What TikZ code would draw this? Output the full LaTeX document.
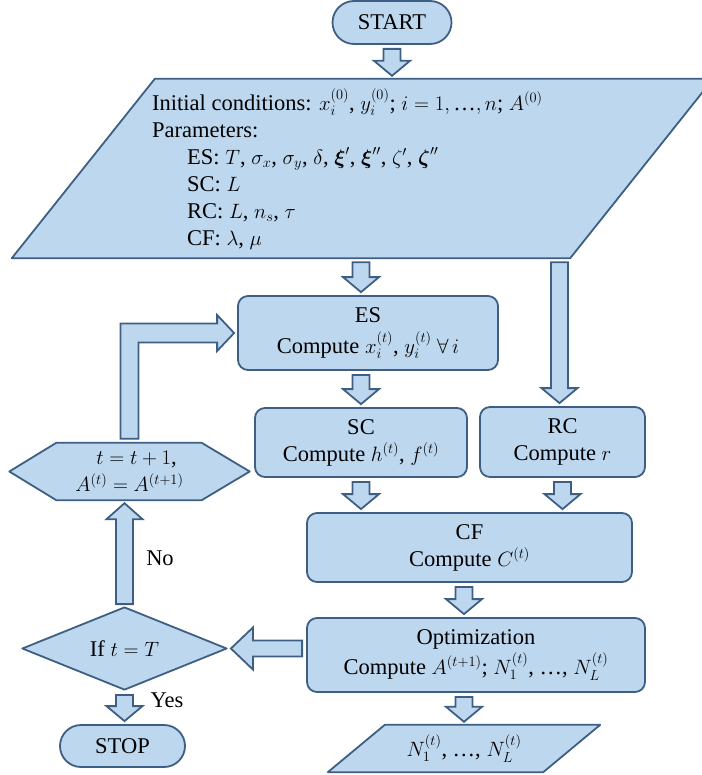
\documentclass[tikz,border=0pt]{standalone}
\usepackage{amsmath}
\usepackage{fontspec}
\setmainfont{Liberation Serif}
\usetikzlibrary{calc,shapes.geometric,shapes.misc}
\definecolor{fcol}{HTML}{BDD7EE}
\definecolor{bcol}{HTML}{3E5F83}
\pgfdeclarelayer{bg}
\pgfsetlayers{bg,main}
\newcommand\myellip{\text{…}}
\tikzset{
  shp/.style={draw=bcol, fill=fcol, line width=1.8pt, line join=round},
  box/.style={shp, rounded corners=10pt, align=center, inner sep=0pt},
  term/.style={shp, rounded rectangle, inner sep=0pt},
  blk/.style={shp, line join=miter},
  txt/.style={align=center, inner sep=0pt},
}
\newcommand\blkdown[2]{\path[blk] let \p1=#1, \p2=#2 in
  (\x1-8.5pt,\y1-4pt) -- (\x1-8.5pt,\y2+18pt) -- (\x1-18pt,\y2+18pt) -- (\x1,\y2+3pt)
  -- (\x1+18pt,\y2+18pt) -- (\x1+8.5pt,\y2+18pt) -- (\x1+8.5pt,\y1-4pt) -- cycle;}
\newcommand\blkup[2]{\path[blk] let \p1=#1, \p2=#2 in
  (\x1-8.5pt,\y1+2pt) -- (\x1-8.5pt,\y2-19pt) -- (\x1-18pt,\y2-19pt) -- (\x1,\y2-3pt)
  -- (\x1+18pt,\y2-19pt) -- (\x1+8.5pt,\y2-19pt) -- (\x1+8.5pt,\y1+2pt) -- cycle;}
\newcommand\blkleft[2]{\path[blk] let \p1=#1, \p2=#2 in
  (\x1-4pt,\y2-8pt) -- (\x2+25pt,\y2-8pt) -- (\x2+25pt,\y2-21pt) -- (\x2+3pt,\y2)
  -- (\x2+25pt,\y2+21pt) -- (\x2+25pt,\y2+8pt) -- (\x1-4pt,\y2+8pt) -- cycle;}
\begin{document}
\begin{tikzpicture}[x=1pt,y=-1pt,font=\fontsize{22.5}{27}\selectfont]
\useasboundingbox (0,0) rectangle (701,775);

% START
\node[term, minimum width=119pt, minimum height=43pt] (start) at (392,22.5) {START};

% input parallelogram
\node[inner sep=0pt, minimum width=701pt, minimum height=179pt] (inp) at (362.5,168.5) {};
\path[shp] (inp.south west) -- ($(inp.north west)+(143,0)$) -- (inp.north east)
  -- ($(inp.south east)+(-143,0)$) -- cycle;
\node[anchor=north west, align=left, inner sep=0pt] (params) at (152,88.5) {%
Initial conditions: $x_i^{(0)}$, $y_i^{(0)}$; $i = 1, \myellip, n$; $A^{(0)}$\\
Parameters:\\
\hspace*{35pt}ES: $T$, $\sigma_x$, $\sigma_y$, $\delta$, $\boldsymbol{\xi}'$, $\boldsymbol{\xi}''$, $\zeta'$, $\boldsymbol{\zeta}''$\\
\hspace*{35pt}SC: $L$\\
\hspace*{35pt}RC: $L$, $n_s$, $\tau$\\
\hspace*{35pt}CF: $\lambda$, $\mu$};

% process boxes
\node[box, minimum width=260pt, minimum height=74pt] (es) at (368,333)
  {ES\\[4pt]Compute $x_i^{(t)}$, $y_i^{(t)}$ $\forall\, i$};
\node[box, minimum width=212pt, minimum height=69pt] (sc) at (361,442.5)
  {SC\\Compute $h^{(t)}$, $f^{(t)}$};
\node[box, minimum width=165pt, minimum height=70pt] (rc) at (562.5,442)
  {RC\\Compute $r$};
\node[box, minimum width=325pt, minimum height=69pt] (cf) at (469.5,547.5)
  {CF\\Compute $C^{(t)}$};
\node[box, minimum width=338pt, minimum height=74pt] (opt) at (476,655)
  {Optimization\\[3pt]Compute $A^{(t+1)}$; $N_1^{(t)}$, \myellip, $N_L^{(t)}$};

% hexagon
\node[txt, minimum width=240pt, minimum height=57pt] (hex) at (129.5,471.5)
  {\hspace*{14pt}$t = t + 1$,\\$A^{(t)} = A^{(t+1)}$};
\begin{pgfonlayer}{bg}
\path[shp] (hex.west) -- ($(hex.north west)+(47,0)$) -- ($(hex.north east)+(-48,0)$)
  -- (hex.east) -- ($(hex.south east)+(-48,0)$) -- ($(hex.south west)+(47,0)$) -- cycle;
\end{pgfonlayer}

% decision
\node[shp, diamond, aspect=2.47, minimum width=205pt, minimum height=83pt, inner sep=0pt]
  (dia) at (124.5,648.5) {If $t = T$};

% STOP
\node[term, minimum width=125pt, minimum height=42pt] (stop) at (122.5,746) {STOP};

% output parallelogram
\node[txt, minimum width=272pt, minimum height=47pt] (out) at (464,748.5)
  {$N_1^{(t)}$, \myellip, $N_L^{(t)}$};
\begin{pgfonlayer}{bg}
\path[shp] (out.south west) -- ($(out.north west)+(57,0)$) -- (out.north east)
  -- ($(out.south east)+(-57,0)$) -- cycle;
\end{pgfonlayer}

% labels
\node[inner sep=0pt] (no) at (160,558) {No};
\node[inner sep=0pt] (yes) at (167,700) {Yes};

% block arrows
\coordinate (rcin) at ($(rc.north)+(-3,0)$);
\blkdown{(start.south)}{(start.south |- inp.north)}
\blkdown{(sc.north |- inp.south)}{(sc.north |- es.north)}
\blkdown{(rcin |- inp.south)}{(rcin)}
\blkdown{(sc.north |- es.south)}{(sc.north)}
\blkdown{(sc.south)}{(sc.south |- cf.north)}
\blkdown{(rc.south)}{(rc.south |- cf.north)}
\blkdown{(out.north |- cf.south)}{(out.north |- opt.north)}
\blkdown{(out.north |- opt.south)}{(out.north)}
\blkleft{(opt.west)}{(dia.east)}
\blkup{(dia.north)}{(hex.south)}
\blkdown{(dia.south)}{(stop.north)}
\path[blk] let \p1=(hex.north), \p2=(es.west) in
  (\x1-9pt,\y1+4pt) -- (\x1-9pt,\y2+9.5pt) -- (\x2-20pt,\y2+9.5pt) -- (\x2-20pt,\y2+18pt)
  -- (\x2-3pt,\y2) -- (\x2-20pt,\y2-18pt) -- (\x2-20pt,\y2-9.5pt) -- (\x1+9pt,\y2-9.5pt)
  -- (\x1+9pt,\y1+4pt) -- cycle;
\end{tikzpicture}
\end{document}
